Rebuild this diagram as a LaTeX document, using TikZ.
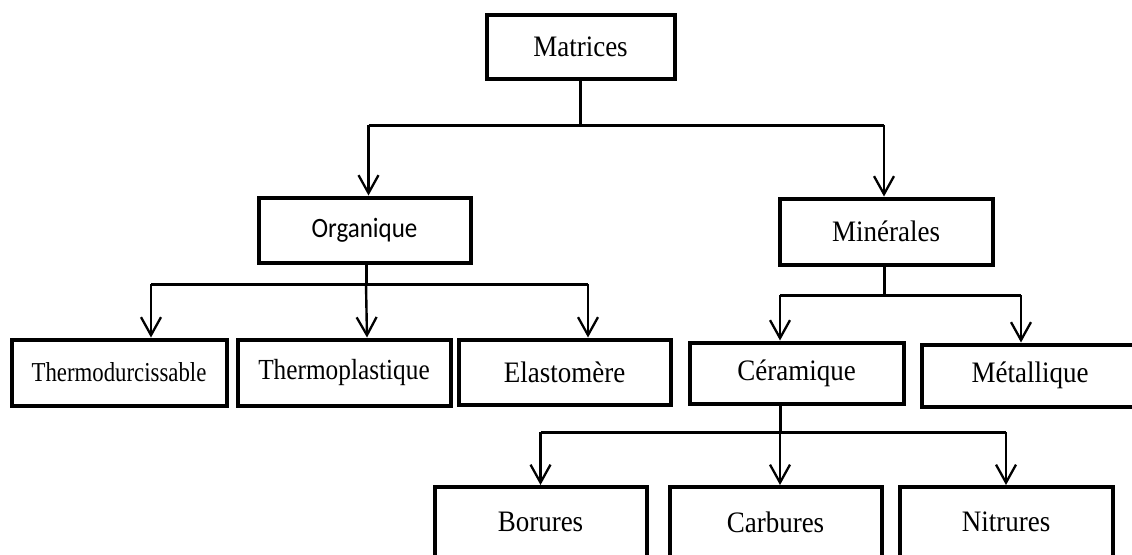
\documentclass[tikz,border=0pt]{standalone}
\usepackage{graphicx}
\usepackage{fontspec}
\setmainfont{Liberation Serif}
\newfontfamily\calibrifont{Carlito}
\usetikzlibrary{arrows.meta}
\newcommand\tallt[2][1.1]{\scalebox{1}[#1]{#2}}
\tikzset{
  box/.style={draw, line width=4pt, minimum width=#1, inner sep=0pt, font=\fontsize{27}{30}\selectfont},
  box/.default=213pt,
  bus/.style={line width=3pt},
  arr/.style={line width=2.4pt, -{Straight Barb[length=18pt,width=20pt,line width=2.3pt]}}
}
\begin{document}
\begin{tikzpicture}[x=1pt,y=-1pt]
\useasboundingbox (0,0) rectangle (1132,554);
% boxes
\node[box=188pt, minimum height=64pt] (mat) at (580.5,46.5) {\tallt{Matrices}};
\node[box=212pt, minimum height=65pt, font=\calibrifont\fontsize{25}{28}\selectfont] (org) at (364.5,230) {\tallt[1.12]{Organique}};
\node[box=213pt, minimum height=66pt] (min) at (886,231.5) {\tallt{Minérales}};
\node[box=215pt, minimum height=66pt, font=\fontsize{22.8}{26}\selectfont] (td) at (119,372.5) {\tallt[1.2]{Thermodurcissable}};
\node[box=213pt, minimum height=66pt, font=\fontsize{25.3}{28}\selectfont] (tp) at (344,372.5) {\tallt[1.15]{Thermoplastique}};
\node[box=212pt, minimum height=65pt] (el) at (564.5,372) {\tallt{Elastomère}};
\node[box=214pt, minimum height=61pt] (cer) at (796.5,373) {\tallt{Céramique}};
\node[box=216pt, minimum height=62pt] (met) at (1030,375.5) {\tallt{Métallique}};
\node[box=212pt, minimum height=70pt] (bor) at (540.5,522) {\tallt{Borures}};
\node[box=212pt, minimum height=70pt] (car) at (775.5,522) {\tallt{Carbures}};
\node[box=213pt, minimum height=70pt] (nit) at (1006,522) {\tallt{Nitrures}};
% junctions
\coordinate (h1) at (580,125);
\coordinate (h2) at (366,284);
\coordinate (h3) at (884,295);
\coordinate (h4) at (780,432);
% Matrices
\draw[bus] (mat.south) -- (mat.south |- h1);
\draw[bus] ([xshift=4pt]org.north |- h1) -- ([xshift=-2pt]min.north |- h1);
\draw[arr] ([xshift=4pt]org.north |- h1) -- ([xshift=4pt]org.north);
\draw[arr] ([xshift=-2pt]min.north |- h1) -- ([xshift=-2pt]min.north);
% Organique
\draw[bus] (org.south -| h2) -- (h2);
\draw[bus] ([xshift=32pt]td.north |- h2) -- ([xshift=23.5pt]el.north |- h2);
\draw[arr] ([xshift=32pt]td.north |- h2) -- ([xshift=32pt]td.north);
\draw[arr] (h2) -- ([xshift=23pt]tp.north);
\draw[arr] ([xshift=23.5pt]el.north |- h2) -- ([xshift=23.5pt]el.north);
% Minerales
\draw[bus] (min.south -| h3) -- (h3);
\draw[bus] ([xshift=-16.5pt]cer.north |- h3) -- ([xshift=-9pt]met.north |- h3);
\draw[arr] ([xshift=-16.5pt]cer.north |- h3) -- ([xshift=-16.5pt]cer.north);
\draw[arr] ([xshift=-9pt]met.north |- h3) -- ([xshift=-9pt]met.north);
% Ceramique
\draw[bus] (cer.south -| h4) -- (h4);
\draw[bus] (bor.north |- h4) -- (nit.north |- h4);
\draw[arr] (bor.north |- h4) -- (bor.north);
\draw[arr] (h4) -- ([xshift=4.5pt]car.north);
\draw[arr] (nit.north |- h4) -- (nit.north);
\end{tikzpicture}
\end{document}
